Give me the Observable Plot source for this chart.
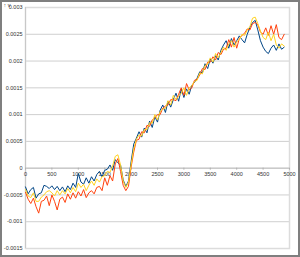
<!DOCTYPE html>
<html>
<head>
<meta charset="utf-8">
<script src="https://cdn.jsdelivr.net/npm/d3@7"></script>
<script src="https://cdn.jsdelivr.net/npm/@observablehq/plot@0.6"></script>
<style>
html,body{margin:0;padding:0;background:#fff;}
#chart svg{display:block;outline:2px solid #7f7f7f;outline-offset:-2px;}
</style>
</head>
<body>
<div id="chart"></div>
<script>
const xs = d3.range(0, 4901, 50);
const blue = [-0.00035,-0.00048,-0.00040,-0.00036,-0.00056,-0.00048,-0.00046,-0.00032,-0.00034,-0.00038,
 -0.00033,-0.00040,-0.00034,-0.00042,-0.00035,-0.00044,-0.00033,-0.00040,-0.00028,-0.00036,
 -0.00010,-0.00026,-0.00030,-0.00018,-0.00028,-0.00016,-0.00024,-0.00012,-0.00006,-0.00016,
 -0.00004,-0.00002,0.00006,-0.00004,0.00016,0.00010,0.00006,-0.00022,-0.00034,-0.00024,
 0.00012,0.00045,0.00056,0.00068,0.00058,0.00075,0.00066,0.00088,0.00076,0.00096,
 0.00086,0.00108,0.00118,0.00104,0.00125,0.00114,0.00128,0.00140,0.00125,0.00148,
 0.00132,0.00148,0.00138,0.00155,0.00160,0.00168,0.00180,0.00178,0.00195,0.00186,
 0.00204,0.00196,0.00210,0.00202,0.00220,0.00230,0.00238,0.00224,0.00242,0.00230,
 0.00238,0.00247,0.00240,0.00234,0.00250,0.00263,0.00272,0.00276,0.00258,0.00238,
 0.00226,0.00218,0.00214,0.00224,0.00230,0.00220,0.00232,0.00222,0.00226];
const red = [-0.00045,-0.00058,-0.00066,-0.00056,-0.00072,-0.00084,-0.00062,-0.00060,-0.00052,-0.00070,
 -0.00050,-0.00062,-0.00078,-0.00058,-0.00054,-0.00064,-0.00048,-0.00058,-0.00046,-0.00056,
 -0.00044,-0.00052,-0.00040,-0.00055,-0.00046,-0.00042,-0.00048,-0.00036,-0.00034,-0.00042,
 -0.00018,-0.00032,-0.00014,-0.00024,0.00008,0.00018,-0.00006,-0.00032,-0.00042,-0.00034,
 0.00002,0.00030,0.00052,0.00054,0.00068,0.00066,0.00080,0.00078,0.00090,0.00094,
 0.00100,0.00100,0.00112,0.00116,0.00118,0.00128,0.00128,0.00126,0.00138,0.00150,
 0.00136,0.00158,0.00146,0.00150,0.00164,0.00166,0.00174,0.00186,0.00184,0.00198,
 0.00198,0.00208,0.00202,0.00216,0.00212,0.00222,0.00224,0.00240,0.00226,0.00244,
 0.00224,0.00242,0.00248,0.00252,0.00260,0.00258,0.00270,0.00272,0.00268,0.00254,
 0.00250,0.00262,0.00248,0.00266,0.00250,0.00268,0.00244,0.00240,0.00250];
const yellow = [-0.00040,-0.00052,-0.00055,-0.00046,-0.00062,-0.00062,-0.00054,-0.00050,-0.00044,-0.00042,
 -0.00046,-0.00052,-0.00042,-0.00050,-0.00042,-0.00048,-0.00038,-0.00046,-0.00036,-0.00044,
 -0.00028,-0.00036,-0.00030,-0.00042,-0.00032,-0.00024,-0.00032,-0.00020,-0.00026,-0.00016,
 -0.00014,-0.00006,-0.00008,0.00004,0.00022,0.00025,0.00006,-0.00024,-0.00036,-0.00026,
 0.00006,0.00036,0.00054,0.00062,0.00060,0.00072,0.00072,0.00085,0.00084,0.00100,
 0.00090,0.00106,0.00110,0.00112,0.00126,0.00118,0.00136,0.00128,0.00134,0.00140,
 0.00150,0.00136,0.00150,0.00154,0.00162,0.00164,0.00178,0.00176,0.00192,0.00194,
 0.00206,0.00198,0.00214,0.00206,0.00216,0.00226,0.00220,0.00232,0.00238,0.00226,
 0.00236,0.00240,0.00250,0.00248,0.00258,0.00264,0.00280,0.00282,0.00270,0.00256,
 0.00244,0.00240,0.00254,0.00238,0.00250,0.00230,0.00224,0.00232,0.00228];
const seriesNames = ["Series1", "Series2", "Series3"];
const seriesColors = ["#004586", "#ff420e", "#ffd320"];
const xTicks = [0, 500, 1000, 1500, 2000, 2500, 3000, 3500, 4000, 4500, 5000];
const yTicks = [-0.0015, -0.001, -0.0005, 0, 0.0005, 0.001, 0.0015, 0.002, 0.0025, 0.003];

const rows = [];
[blue, red, yellow].forEach((arr, s) => arr.forEach((v, i) => rows.push({x: xs[i], v, s: seriesNames[s]})));

const chart = Plot.plot({
  width: 300, height: 257,
  marginLeft: 25, marginRight: 11, marginTop: 7, marginBottom: 9,
  x: {domain: [0, 5000], axis: null},
  y: {domain: [-0.0015, 0.003], axis: null},
  color: {domain: seriesNames, range: seriesColors},
  style: {fontFamily: "Liberation Sans, Arial, sans-serif", fontSize: "5.5px", background: "#fff", color: "#333"},
  marks: [
    Plot.gridY(yTicks, {stroke: "#cfcfcf", strokeOpacity: 1}),
    Plot.frame({stroke: "#dcdcdc", strokeWidth: 1.5}),
    Plot.ruleX([0], {stroke: "#c8c8c8"}),
    Plot.ruleY([0], {stroke: "#c0c0c0"}),
    Plot.ruleX(xTicks, {x: d => d, y1: 0, y2: 0, insetBottom: -2, stroke: "#b0b0b0"}),
    Plot.axisY(yTicks, {tickSize: 0, tickPadding: 3, tickFormat: d => String(d), fill: "#333"}),
    Plot.text(xTicks, {x: d => d, y: 0, text: d => String(d), dy: 6.5, fill: "#333"}),
    Plot.lineY(rows, {x: "x", y: "v", stroke: "s", strokeWidth: 1})
  ]
});
document.getElementById("chart").appendChild(chart);
</script>
</body>
</html>
